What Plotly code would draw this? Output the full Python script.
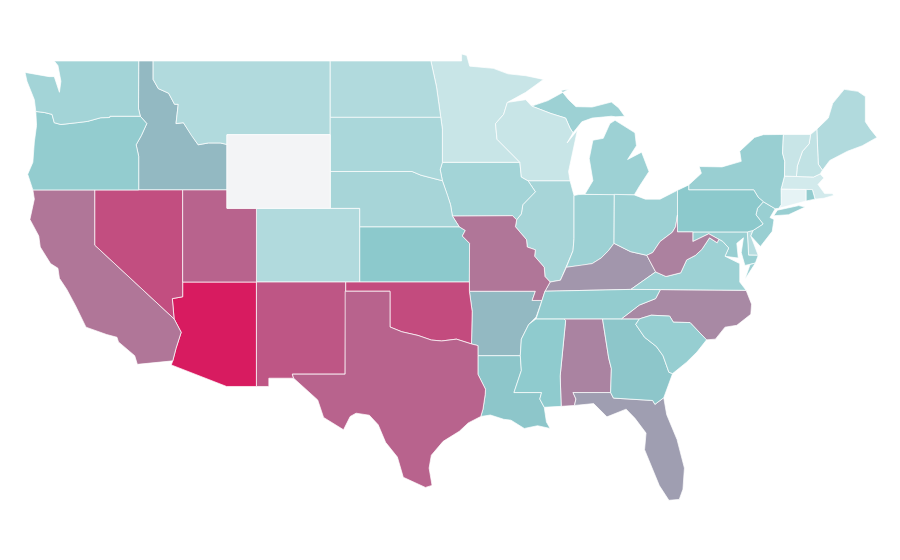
import plotly.graph_objects as go
from plotly.colors import sample_colorscale

# plotly's us topojson lives on the cdn, so state outlines are written out here in lon/lat (rough)
states = ['AL', 'AZ', 'AR', 'CA', 'CO', 'CT', 'DE', 'DC', 'FL', 'GA', 'ID', 'IL', 'IN', 'IA', 'KS', 'KY', 'LA',
          'ME', 'MD', 'MA', 'MI', 'MN', 'MS', 'MO', 'MT', 'NE', 'NV', 'NH', 'NJ', 'NM', 'NY', 'NC', 'ND', 'OH',
          'OK', 'OR', 'PA', 'RI', 'SC', 'SD', 'TN', 'TX', 'UT', 'VT', 'VA', 'WA', 'WV', 'WI', 'WY']
values = [61, 100, 41, 66, 24, 8, 22, 31, 51, 36, 41, 27, 30, 28, 35, 54, 36,
          24, 31, 14, 30, 17, 34, 66, 24, 27, 81, 19, 31, 78, 31, 59, 24, 30,
          82, 33, 35, 33, 32, 26, 33, 73, 73, 17, 30, 28, 62, 17, 0]

colorscale = [[0, '#f3f4f6'], [0.08, '#e6f3f5'], [0.35, '#8cc9cc'], [1, '#d81b60']]

outlines = {
    'WA': [(-124.73, 48.38), (-123.1, 48.15), (-122.75, 48.15), (-122.5, 47.6), (-122.4, 47.3), (-122.3, 47.9), (-122.5, 48.75), (-122.75, 49), (-117.03, 49), (-117.04, 46.4), (-116.92, 46), (-118.98, 46), (-119, 45.93), (-119.6, 45.92), (-120.5, 45.72), (-121.2, 45.65), (-122.3, 45.55), (-122.75, 45.65), (-122.8, 45.85), (-122.9, 46.1), (-123.4, 46.2), (-124, 46.26), (-124.1, 46.9), (-124.6, 47.9)],
    'OR': [(-124, 46.26), (-123.4, 46.2), (-122.9, 46.1), (-122.8, 45.85), (-122.75, 45.65), (-122.3, 45.55), (-121.2, 45.65), (-120.5, 45.72), (-119.6, 45.92), (-119, 45.93), (-118.98, 46), (-116.92, 46), (-116.48, 45.6), (-116.85, 44.95), (-117.2, 44.45), (-117.03, 43.83), (-117.03, 42), (-124.2, 42), (-124.55, 42.85), (-124.2, 43.5), (-124.1, 44.6), (-123.95, 45.5)],
    'ID': [(-117.03, 49), (-116.05, 49), (-116.05, 48), (-115.7, 47.5), (-115, 47.25), (-114.6, 46.65), (-114.35, 46.65), (-114.5, 45.6), (-114, 45.65), (-113.45, 44.95), (-113, 44.45), (-112.3, 44.55), (-111.5, 44.55), (-111.05, 44.47), (-111.05, 42), (-117.03, 42), (-117.03, 43.83), (-117.2, 44.45), (-116.85, 44.95), (-116.48, 45.6), (-116.92, 46), (-117.04, 46.4)],
    'MT': [(-116.05, 49), (-104.05, 49), (-104.05, 45), (-111.05, 45), (-111.05, 44.47), (-111.5, 44.55), (-112.3, 44.55), (-113, 44.45), (-113.45, 44.95), (-114, 45.65), (-114.5, 45.6), (-114.35, 46.65), (-114.6, 46.65), (-115, 47.25), (-115.7, 47.5), (-116.05, 48)],
    'WY': [(-111.05, 45), (-104.05, 45), (-104.05, 41), (-111.05, 41)],
    'CA': [(-124.2, 42), (-124.1, 41.5), (-124.4, 40.4), (-123.8, 39.5), (-123.7, 38.9), (-123, 38), (-122.5, 37.75), (-122.4, 37.2), (-121.9, 36.6), (-121.3, 35.7), (-120.6, 34.55), (-119.2, 34.15), (-118.5, 34), (-118.4, 33.75), (-117.3, 33), (-117.12, 32.53), (-114.72, 32.72), (-114.5, 33.4), (-114.15, 34.27), (-114.63, 35), (-120, 39), (-120, 42)],
    'NV': [(-120, 42), (-120, 39), (-114.63, 35), (-114.75, 36.1), (-114.05, 36.2), (-114.05, 42)],
    'UT': [(-114.05, 42), (-111.05, 42), (-111.05, 41), (-109.05, 41), (-109.05, 37), (-114.05, 37)],
    'AZ': [(-114.05, 37), (-109.05, 37), (-109.05, 31.33), (-111.07, 31.33), (-114.82, 32.5), (-114.72, 32.72), (-114.5, 33.4), (-114.15, 34.27), (-114.63, 35), (-114.75, 36.1), (-114.05, 36.2)],
    'CO': [(-109.05, 41), (-102.05, 41), (-102.05, 37), (-109.05, 37)],
    'NM': [(-109.05, 37), (-103, 37), (-103.04, 32), (-106.62, 32), (-106.53, 31.78), (-108.21, 31.78), (-108.21, 31.33), (-109.05, 31.33)],
    'ND': [(-104.05, 49), (-97.23, 49), (-96.85, 47.6), (-96.56, 45.94), (-104.05, 45.94)],
    'SD': [(-104.05, 45.94), (-96.56, 45.94), (-96.45, 45.3), (-96.45, 43.5), (-96.6, 43.1), (-96.45, 42.5), (-97.9, 42.8), (-98.5, 43), (-104.05, 43)],
    'NE': [(-104.05, 43), (-98.5, 43), (-97.9, 42.8), (-96.45, 42.5), (-96.1, 41.7), (-95.9, 41.2), (-95.77, 40.58), (-95.31, 40), (-102.05, 40), (-102.05, 41), (-104.05, 41)],
    'KS': [(-102.05, 40), (-95.31, 40), (-94.9, 39.8), (-95.1, 39.5), (-94.61, 39.1), (-94.62, 37), (-102.05, 37)],
    'OK': [(-103, 37), (-94.62, 37), (-94.62, 36.5), (-94.43, 35.4), (-94.48, 33.64), (-95.5, 33.9), (-96.5, 33.8), (-97.2, 33.85), (-98.1, 34.1), (-99.2, 34.3), (-100, 34.56), (-100, 36.5), (-103, 36.5)],
    'TX': [(-103.04, 36.5), (-100, 36.5), (-100, 34.56), (-99.2, 34.3), (-98.1, 34.1), (-97.2, 33.85), (-96.5, 33.8), (-95.5, 33.9), (-94.48, 33.64), (-94.04, 33.55), (-94.04, 33), (-94.04, 31.99), (-93.53, 31.18), (-93.55, 30.9), (-93.7, 30.1), (-93.85, 29.7), (-94.7, 29.35), (-95.3, 28.9), (-96.4, 28.35), (-97.2, 27.6), (-97.35, 26.9), (-97.15, 25.96), (-97.6, 25.85), (-99.1, 26.4), (-99.5, 27.5), (-100.3, 28.3), (-100.8, 29.25), (-101.4, 29.77), (-102.3, 29.88), (-102.7, 29.7), (-103.15, 28.98), (-104.5, 29.65), (-104.9, 30.6), (-106.53, 31.78), (-106.62, 32), (-103.04, 32)],
    'MN': [(-97.23, 49), (-95.15, 49), (-95.15, 49.38), (-94.8, 49.3), (-94.6, 48.72), (-93, 48.6), (-92, 48.3), (-90.8, 48.2), (-89.6, 48), (-90.8, 47.3), (-92.05, 46.75), (-92.3, 46.1), (-92.85, 45.6), (-92.75, 44.75), (-91.2, 43.5), (-96.45, 43.5), (-96.45, 45.3), (-96.56, 45.94), (-96.85, 47.6)],
    'IA': [(-96.45, 43.5), (-91.2, 43.5), (-91.1, 42.7), (-90.65, 42.5), (-90.15, 41.9), (-91, 41.2), (-91.1, 40.7), (-91.42, 40.38), (-91.7, 40.6), (-95.77, 40.58), (-95.9, 41.2), (-96.1, 41.7), (-96.45, 42.5), (-96.6, 43.1)],
    'MO': [(-95.77, 40.58), (-91.7, 40.6), (-91.42, 40.38), (-91.5, 40), (-90.75, 39.3), (-90.7, 38.9), (-90.15, 38.75), (-90.2, 38.4), (-89.55, 37.8), (-89.5, 37.3), (-89.15, 37), (-89.5, 36.5), (-89.7, 36), (-90.37, 36), (-90.15, 36.5), (-94.62, 36.5), (-94.62, 37), (-94.61, 39.1), (-95.1, 39.5), (-94.9, 39.8), (-95.31, 40)],
    'AR': [(-94.62, 36.5), (-90.15, 36.5), (-90.37, 36), (-89.7, 36), (-90.1, 35.1), (-90.6, 34.7), (-91.1, 33.9), (-91.17, 33), (-94.04, 33), (-94.04, 33.55), (-94.48, 33.64), (-94.43, 35.4)],
    'LA': [(-94.04, 33), (-91.17, 33), (-91.1, 32.2), (-91.6, 31), (-89.73, 31), (-89.85, 30.65), (-89.55, 30.2), (-89.5, 29.9), (-89.4, 29.4), (-89.15, 29.05), (-90, 29.2), (-90.9, 29.05), (-91.8, 29.5), (-92.3, 29.55), (-93.2, 29.78), (-93.85, 29.7), (-93.7, 30.1), (-93.55, 30.9), (-93.53, 31.18), (-94.04, 31.99)],
    'WI': [(-92.05, 46.75), (-90.8, 46.9), (-90.4, 46.55), (-89.1, 46.15), (-88.1, 45.9), (-87.8, 45.35), (-87.6, 45.1), (-88, 44.55), (-87.3, 45.25), (-87.55, 44.3), (-87.9, 43), (-87.8, 42.5), (-90.65, 42.5), (-91.1, 42.7), (-91.2, 43.5), (-92.75, 44.75), (-92.85, 45.6), (-92.3, 46.1)],
    'IL': [(-90.65, 42.5), (-87.8, 42.5), (-87.53, 41.7), (-87.53, 39.35), (-87.6, 38.7), (-88.05, 37.8), (-88.45, 37.1), (-89.15, 37), (-89.5, 37.3), (-89.55, 37.8), (-90.2, 38.4), (-90.15, 38.75), (-90.7, 38.9), (-90.75, 39.3), (-91.5, 40), (-91.42, 40.38), (-91.1, 40.7), (-91, 41.2), (-90.15, 41.9)],
    'IN': [(-87.53, 41.7), (-87.2, 41.75), (-86.8, 41.76), (-84.8, 41.76), (-84.82, 39.1), (-85.2, 38.7), (-85.7, 38.3), (-86.3, 38), (-87, 37.9), (-88.05, 37.8), (-87.6, 38.7), (-87.53, 39.35)],
    'OH': [(-84.8, 41.76), (-83.45, 41.73), (-82.7, 41.5), (-81.7, 41.5), (-80.52, 41.98), (-80.52, 40.64), (-80.65, 40), (-80.87, 39.7), (-81.7, 39.2), (-82.2, 38.6), (-82.6, 38.45), (-83.7, 38.65), (-84.82, 39.1)],
    'KY': [(-89.15, 37), (-88.45, 37.1), (-88.05, 37.8), (-87, 37.9), (-86.3, 38), (-85.7, 38.3), (-85.2, 38.7), (-84.82, 39.1), (-83.7, 38.65), (-82.6, 38.45), (-82, 37.55), (-83.68, 36.6), (-89.5, 36.5)],
    'TN': [(-89.7, 36), (-89.5, 36.5), (-83.68, 36.6), (-81.68, 36.59), (-82, 36.1), (-83.1, 35.75), (-84.32, 35), (-90.1, 35)],
    'MS': [(-90.1, 35), (-88.2, 35), (-88.1, 34.9), (-88.47, 31.9), (-88.4, 30.25), (-89.55, 30.2), (-89.85, 30.65), (-89.73, 31), (-91.6, 31), (-91.1, 32.2), (-91.17, 33), (-91.1, 33.9), (-90.6, 34.7)],
    'AL': [(-88.2, 35), (-85.6, 35), (-85.18, 32.87), (-85, 32.3), (-85.05, 31), (-87.6, 31), (-87.4, 30.65), (-87.5, 30.3), (-88.4, 30.25), (-88.47, 31.9), (-88.1, 34.9)],
    'GA': [(-85.6, 35), (-83.1, 35), (-83.35, 34.7), (-82.75, 34), (-81.95, 33.5), (-81.5, 33), (-81.1, 32.1), (-80.85, 32.03), (-81.45, 30.72), (-82.05, 30.36), (-82.2, 30.57), (-84.86, 30.7), (-85.05, 31), (-85, 32.3), (-85.18, 32.87)],
    'FL': [(-87.6, 31), (-85.05, 31), (-84.86, 30.7), (-82.2, 30.57), (-82.05, 30.36), (-81.45, 30.72), (-81.25, 29.8), (-80.55, 28.45), (-80.05, 26.9), (-80.15, 25.75), (-80.4, 25.2), (-81.1, 25.15), (-81.75, 25.95), (-82.2, 26.8), (-82.75, 27.9), (-82.65, 28.8), (-83.4, 29.6), (-84, 30.1), (-85.3, 29.68), (-86.2, 30.4), (-87.5, 30.3), (-87.4, 30.65)],
    'SC': [(-83.35, 34.7), (-83.1, 35), (-82.3, 35.2), (-81.05, 35.15), (-80.8, 34.82), (-79.67, 34.8), (-78.55, 33.86), (-79.2, 33.2), (-79.9, 32.65), (-80.85, 32.03), (-81.1, 32.1), (-81.5, 33), (-81.95, 33.5), (-82.75, 34)],
    'NC': [(-84.32, 35), (-83.1, 35), (-82.3, 35.2), (-81.05, 35.15), (-80.8, 34.82), (-79.67, 34.8), (-78.55, 33.86), (-77.95, 33.9), (-77.3, 34.55), (-76.5, 34.65), (-75.55, 35.25), (-75.5, 35.8), (-75.87, 36.55), (-81.68, 36.59), (-82, 36.1), (-83.1, 35.75)],
    'VA': [(-83.68, 36.6), (-82, 37.55), (-81.3, 37.3), (-80.3, 37.5), (-79.9, 38.2), (-79.3, 38.45), (-78.87, 38.77), (-78.35, 39.4), (-77.83, 39.13), (-77.72, 39.32), (-77.45, 39.2), (-77.05, 38.85), (-77.3, 38.4), (-76.3, 38), (-76.3, 37), (-75.87, 36.55), (-81.68, 36.59), None, (-75.95, 37.15), (-75.24, 38.03), (-75.6, 37.95)],
    'WV': [(-82.6, 38.45), (-82.2, 38.6), (-81.7, 39.2), (-80.87, 39.7), (-80.65, 40), (-80.52, 40.64), (-80.52, 39.72), (-79.48, 39.72), (-79.48, 39.2), (-78.4, 39.62), (-77.72, 39.32), (-77.83, 39.13), (-78.35, 39.4), (-78.87, 38.77), (-79.3, 38.45), (-79.9, 38.2), (-80.3, 37.5), (-81.3, 37.3), (-82, 37.55)],
    'PA': [(-80.52, 41.98), (-80.1, 42.15), (-79.76, 42.27), (-79.76, 42), (-75.35, 42), (-75.05, 41.6), (-74.7, 41.36), (-75.1, 41), (-75.2, 40.65), (-74.72, 40.15), (-75.4, 39.8), (-75.79, 39.72), (-80.52, 39.72)],
    'NY': [(-79.76, 42.27), (-78.9, 42.9), (-79.05, 43.27), (-77.5, 43.25), (-76.2, 43.55), (-76.3, 44.1), (-75.3, 44.85), (-74.7, 45), (-73.34, 45.01), (-73.4, 44), (-73.25, 43.55), (-73.27, 42.75), (-73.5, 42.05), (-73.49, 41.2), (-73.66, 41), (-73.9, 40.98), (-74.7, 41.36), (-75.05, 41.6), (-75.35, 42), (-79.76, 42), None, (-74, 40.6), (-73.75, 40.9), (-72.3, 41.15), (-71.87, 41.07), (-73, 40.65)],
    'NJ': [(-74.7, 41.36), (-73.9, 40.98), (-74.25, 40.5), (-73.98, 40.4), (-74.1, 39.75), (-74.9, 38.93), (-75.55, 39.5), (-75.4, 39.8), (-74.72, 40.15), (-75.2, 40.65), (-75.1, 41)],
    'DE': [(-75.79, 39.72), (-75.4, 39.8), (-75.55, 39.5), (-75.05, 38.45), (-75.7, 38.46)],
    'MD': [(-79.48, 39.72), (-75.79, 39.72), (-75.7, 38.46), (-75.05, 38.45), (-75.24, 38.03), (-75.95, 37.9), (-76.2, 38.6), (-76.05, 39.4), (-76.5, 39.1), (-76.4, 38.3), (-77.3, 38.4), (-77.05, 38.85), (-77.45, 39.2), (-77.72, 39.32), (-78.4, 39.62), (-79.48, 39.2)],
    'DC': [(-77.12, 38.93), (-77.04, 39), (-76.91, 38.89), (-77.04, 38.79)],
    'CT': [(-73.5, 42.05), (-71.8, 42.02), (-71.8, 41.4), (-73.66, 41), (-73.49, 41.2)],
    'RI': [(-71.8, 42.02), (-71.38, 42.02), (-71.2, 41.5), (-71.8, 41.4)],
    'MA': [(-73.27, 42.75), (-71.3, 42.7), (-70.85, 42.87), (-70.6, 42.65), (-71, 42.3), (-70.55, 41.8), (-70, 41.8), (-70.1, 42.05), (-69.95, 41.7), (-70.6, 41.55), (-71.2, 41.5), (-71.38, 42.02), (-71.8, 42.02), (-73.5, 42.05)],
    'VT': [(-73.34, 45.01), (-71.5, 45.01), (-71.6, 44.5), (-72.05, 44.1), (-72.4, 43.3), (-72.46, 42.73), (-73.27, 42.75), (-73.25, 43.55), (-73.4, 44)],
    'NH': [(-71.5, 45.01), (-71.08, 45.3), (-70.98, 43.4), (-70.7, 43.07), (-70.85, 42.87), (-71.3, 42.7), (-72.46, 42.73), (-72.4, 43.3), (-72.05, 44.1), (-71.6, 44.5)],
    'ME': [(-71.08, 45.3), (-70.3, 45.9), (-70, 46.7), (-69.22, 47.46), (-68.3, 47.35), (-67.79, 47.07), (-67.79, 45.7), (-67.45, 45.3), (-67, 44.85), (-68, 44.4), (-69, 44.1), (-70.2, 43.6), (-70.7, 43.07), (-70.98, 43.4)],
    'MI': [(-86.8, 41.76), (-84.8, 41.76), (-83.45, 41.73), (-83.1, 42.2), (-82.45, 43), (-82.95, 44.05), (-83.9, 43.65), (-83.3, 44.4), (-83.4, 45.1), (-84.75, 45.78), (-85.1, 45.6), (-85.55, 44.8), (-86.25, 44.7), (-86.5, 43.7), (-86.25, 42.5), None, (-90.4, 46.55), (-89.1, 46.15), (-88.1, 45.9), (-87.8, 45.35), (-87.6, 45.1), (-87, 45.7), (-86.3, 45.9), (-85, 46), (-84.7, 45.97), (-84.1, 46), (-84.5, 46.45), (-85, 46.77), (-86.3, 46.5), (-87.4, 46.52), (-87.9, 46.9), (-88.4, 47.4), (-87.9, 47.47), (-89.3, 46.85)],
}

fig = go.Figure()
for state, val in zip(states, values):
    lon, lat = [], []
    pts = outlines[state]
    first = pts[0]
    for p in pts:
        if p is None:
            lon += [first[0], None]
            lat += [first[1], None]
            first = None
        else:
            if first is None:
                first = p
            lon.append(p[0])
            lat.append(p[1])
    lon.append(first[0])
    lat.append(first[1])
    color = sample_colorscale(colorscale, val / 100)[0]
    fig.add_trace(go.Scatter(x=lon, y=lat, mode='lines', fill='toself', fillcolor=color,
                             line=dict(color='white', width=0.7), hoverinfo='skip', showlegend=False))

fig.update_layout(
    width=900,
    height=560,
    margin=dict(l=0, r=0, t=0, b=0),
    paper_bgcolor='white',
    plot_bgcolor='white',
    xaxis=dict(visible=False, range=[-125.885, -64.9]),
    yaxis=dict(visible=False, range=[21.476, 51.876]),
)
fig.write_html("out.html")
